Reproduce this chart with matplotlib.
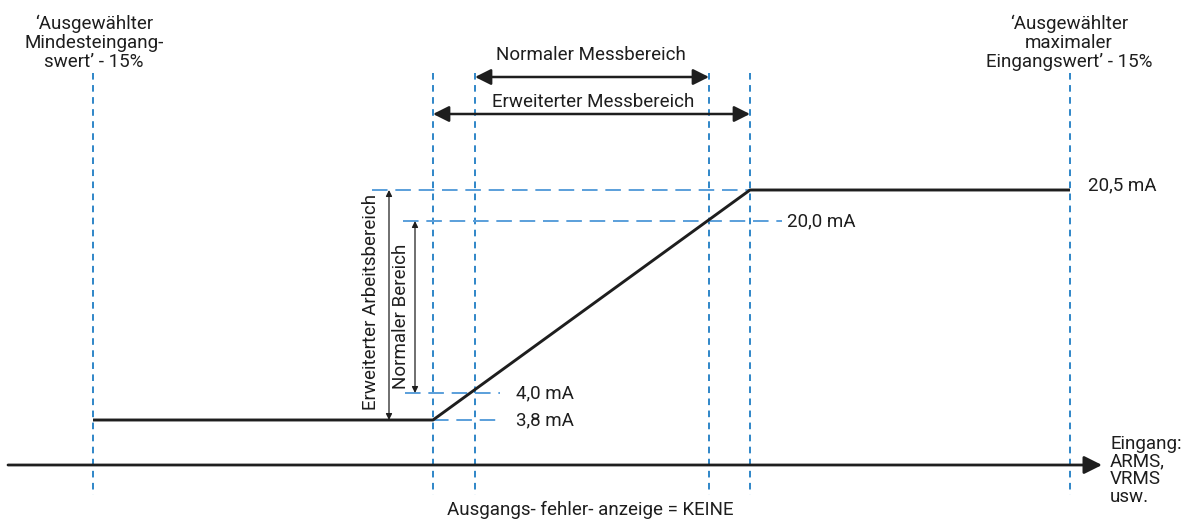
import matplotlib.pyplot as plt

plt.rcParams['font.family'] = ['Roboto', 'DejaVu Sans']

# schematic positions (pixel-like units, y grows downward)
input_marks = [93, 433, 475, 709, 750, 1070]   # vertical guides
axis_y = 465

# output levels
level_labels = ['3,8 mA', '4,0 mA', '20,0 mA', '20,5 mA']
level_y = [420, 393, 221, 190]

# transfer curve: flat low, ramp, flat high
curve_x = [93, 433, 750, 1070]
curve_y = [420, 420, 190, 190]

# horizontal dashed guides: (x start, x end, y)
guide_lines = [(372, 750, 190), (403, 782, 221), (405, 500, 393), (433, 502, 420)]

label_pos = [(516, 420), (516, 393), (787, 221), (1088, 185)]

top_left = '\u2018Ausgewählter\nMindesteingang-\nswert\u2019 - 15%'
top_right = '\u2018Ausgewählter\nmaximaler\nEingangswert\u2019 - 15%'
bottom_text = 'Ausgangs- fehler- anzeige = KEINE'
axis_text = 'Eingang:\nARMS,\nVRMS\nusw.'

fig = plt.figure(figsize=(11.87, 5.23), dpi=100)
ax = fig.add_axes([0, 0, 1, 1])
ax.set_xlim(0, 1187)
ax.set_ylim(523, 0)
ax.axis('off')

vblue = '#2f86c8'
hblue = '#5a9fdb'
ink = '#1e1e1e'
fs = 13.5

# vertical dashed guides
for x in input_marks:
    ax.plot([x, x], [73, 495], color=vblue, lw=1.4, dashes=(3.4, 2.8))

# horizontal dashed guides
for x0, x1, y in guide_lines:
    ax.plot([x0, x1], [y, y], color=hblue, lw=1.4, dashes=(8, 4))

# transfer curve
ax.plot(curve_x, curve_y, color=ink, lw=2.1, solid_capstyle='butt')

# input axis
ax.annotate('', xy=(1102, axis_y), xytext=(8, axis_y),
            arrowprops=dict(arrowstyle='-|>', color=ink, lw=2.0,
                            mutation_scale=27, shrinkA=0, shrinkB=0))

# measuring range arrows
ax.annotate('', xy=(input_marks[2], 77), xytext=(input_marks[3], 77),
            arrowprops=dict(arrowstyle='<|-|>', color=ink, lw=1.8,
                            mutation_scale=24, shrinkA=0, shrinkB=0))
ax.annotate('', xy=(input_marks[1], 114), xytext=(input_marks[4], 114),
            arrowprops=dict(arrowstyle='<|-|>', color=ink, lw=1.8,
                            mutation_scale=24, shrinkA=0, shrinkB=0))
ax.text(591, 55, 'Normaler Messbereich', ha='center', va='center', fontsize=fs, color=ink)
ax.text(593, 102, 'Erweiterter Messbereich', ha='center', va='center', fontsize=fs, color=ink)

# working range arrows
ax.annotate('', xy=(389, level_y[3]), xytext=(389, level_y[0]),
            arrowprops=dict(arrowstyle='<|-|>', color=ink, lw=0.9,
                            mutation_scale=9, shrinkA=0, shrinkB=0))
ax.annotate('', xy=(415, level_y[2]), xytext=(415, level_y[1]),
            arrowprops=dict(arrowstyle='<|-|>', color=ink, lw=0.9,
                            mutation_scale=9, shrinkA=0, shrinkB=0))
ax.text(371, 302, 'Erweiterter Arbeitsbereich', rotation=90, ha='center', va='center',
        fontsize=fs, color=ink)
ax.text(401, 316, 'Normaler Bereich', rotation=90, ha='center', va='center',
        fontsize=fs, color=ink)

# level labels
for lab, (x, y) in zip(level_labels, label_pos):
    ax.text(x, y, lab, ha='left', va='center', fontsize=fs, color=ink)

ax.text(94, 15, top_left, ha='center', va='top', fontsize=fs, color=ink, linespacing=1.05)
ax.text(1069, 15, top_right, ha='center', va='top', fontsize=fs, color=ink, linespacing=1.05)
ax.text(590, 510, bottom_text, ha='center', va='center', fontsize=fs, color=ink)
ax.text(1110, 435, axis_text, ha='left', va='top', fontsize=fs, color=ink, linespacing=0.97)

fig.savefig('out.png', dpi=100)
